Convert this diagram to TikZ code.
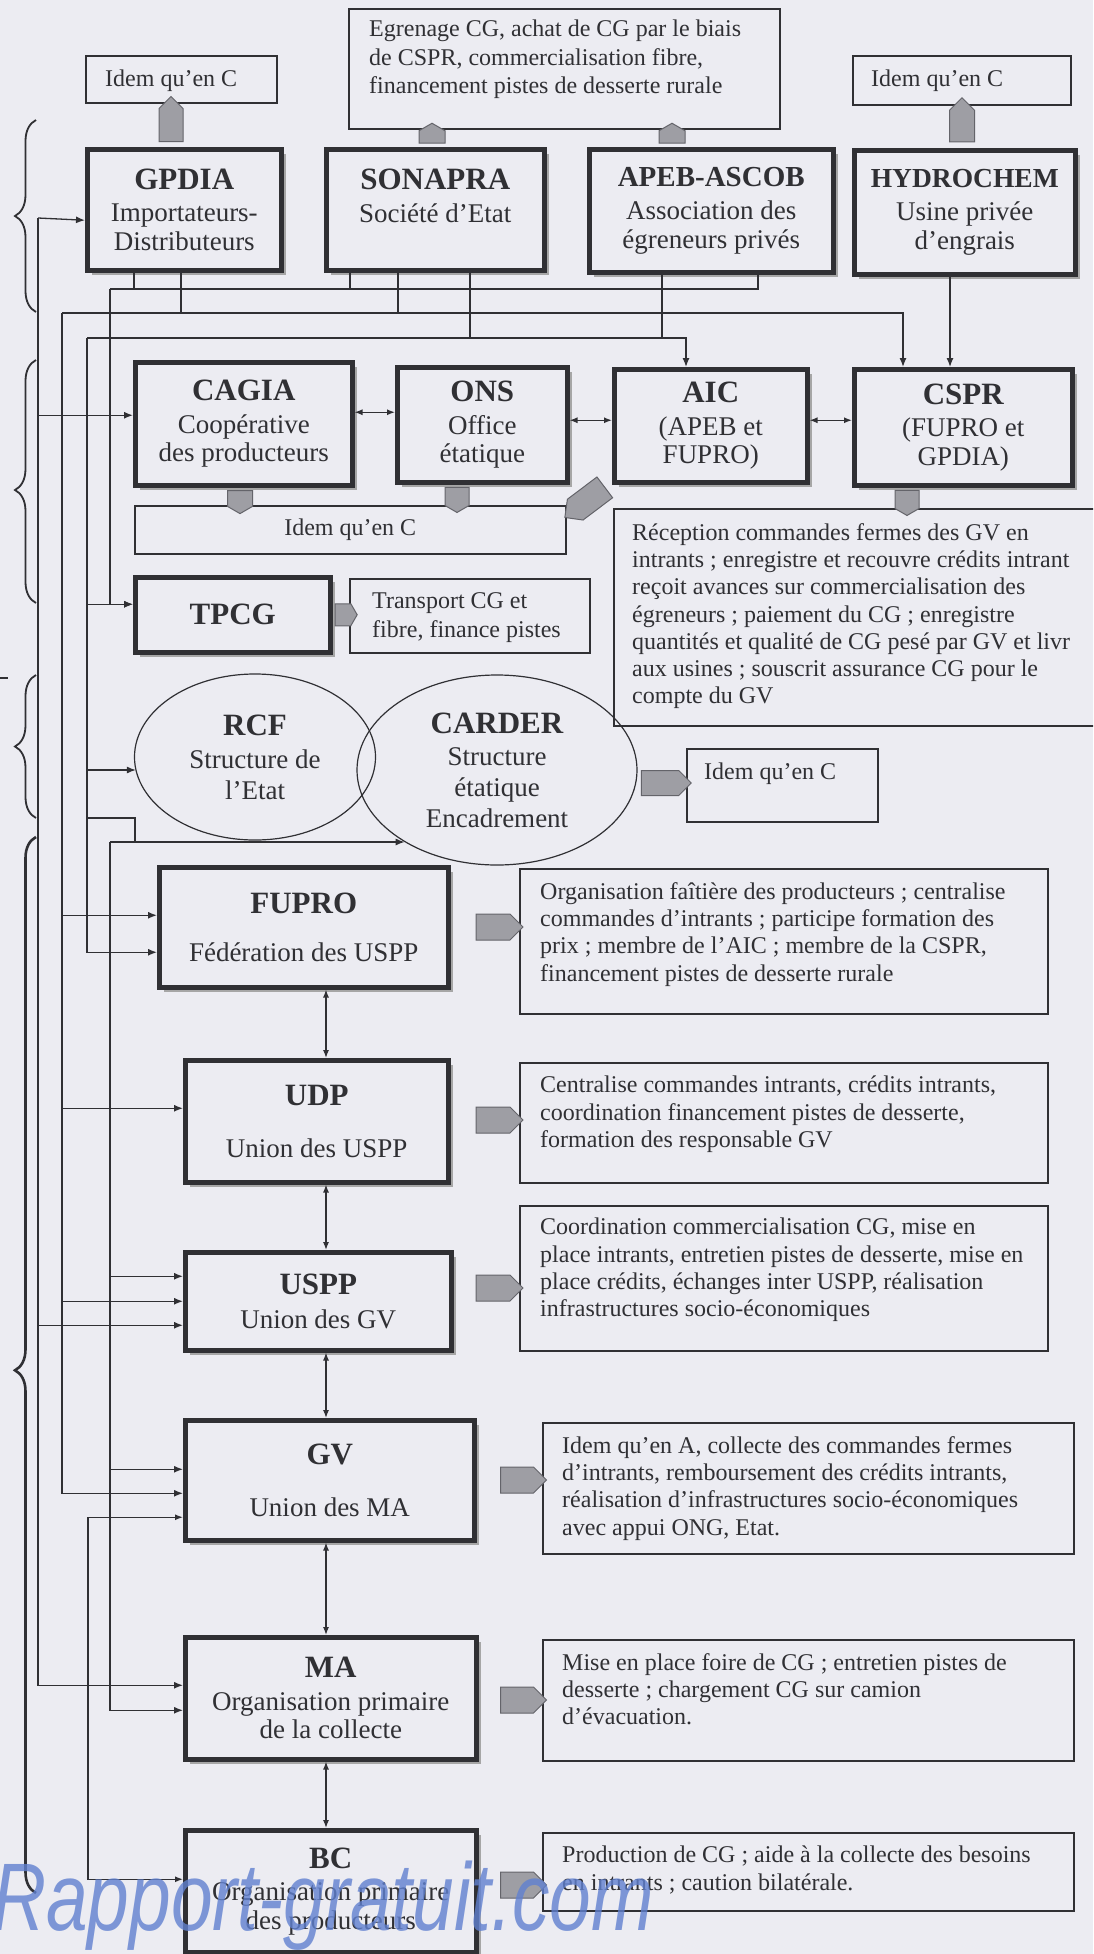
\documentclass[tikz,border=0pt]{standalone}
\usepackage{fontspec}
\setmainfont{Liberation Serif}
\newfontfamily\wmfont{Liberation Sans}
\usetikzlibrary{shapes.geometric,shapes.symbols,arrows.meta,decorations.pathreplacing,calc,shadows}
\definecolor{bgc}{RGB}{236,236,242}
\definecolor{ink}{RGB}{48,48,52}
\definecolor{gfill}{RGB}{158,158,164}
\definecolor{gline}{RGB}{100,100,106}
\definecolor{wmblue}{RGB}{96,128,208}
\newcommand{\ttl}[1]{{\fontsize{31}{32}\selectfont\bfseries #1}}
\tikzset{
  bigbox/.style={draw=ink, line width=4.5pt, fill=bgc, inner sep=0pt, anchor=north west, align=center, text=ink,
     font=\fontsize{27}{28.5}\selectfont,
     drop shadow={shadow xshift=5pt, shadow yshift=-5pt, fill=gray!70, opacity=1}},
  descbox/.style={draw=ink, line width=1.5pt, fill=bgc, inner sep=0pt, anchor=north west},
  desctext/.style={anchor=north west, inner sep=0pt, align=left, text=ink, font=\fontsize{24}{27.3}\selectfont},
  ellbox/.style={draw=ink, line width=1.2pt, ellipse, inner sep=0pt},
  elltext/.style={inner sep=0pt, align=center, text=ink, font=\fontsize{27}{31}\selectfont},
  conn/.style={draw=ink, line width=1.3pt},
  arrowE/.style={-{Latex[length=9pt,width=7pt]}},
  arrowB/.style={{Latex[length=8pt,width=6pt]}-{Latex[length=8pt,width=6pt]}},
  garr/.style={signal, signal to=east, draw=gline, line width=1pt, fill=gfill, inner sep=0pt},
  gshort/.style={signal pointer angle=120},
  bracedeco/.style={decorate, draw=ink, line width=1.8pt, decoration={brace, amplitude=21pt, aspect=#1}},
}
\begin{document}
\begin{tikzpicture}[x=1pt,y=-1pt]
\fill[bgc] (0,0) rectangle (1093,1954);
\clip (0,0) rectangle (1093,1954);

% ---------------- top row ----------------
\node[descbox,minimum width=431pt,minimum height=120pt] (egr) at (348,8) {};
\node[desctext,font=\fontsize{24}{28.5}\selectfont] (egrT) at ($(egr.north west)+(21,12)$) {Egrenage CG, achat de CG par le biais\\de CSPR, commercialisation fibre,\\financement pistes de desserte rurale};
\node[descbox,minimum width=191pt,minimum height=47pt] (idemL) at (85,55) {};
\node[desctext,anchor=west] (idemLT) at ($(idemL.west)+(20,1)$) {Idem qu’en C};
\node[descbox,minimum width=218pt,minimum height=49pt] (idemR) at (852,55) {};
\node[desctext,anchor=west] (idemRT) at ($(idemR.west)+(19,0)$) {Idem qu’en C};

\node[bigbox,minimum width=194pt,minimum height=121pt] (gpdia) at (85,147) {\ttl{GPDIA}\\[4pt]Importateurs-\\Distributeurs};
\node[bigbox,minimum width=218pt,minimum height=121pt] (sonapra) at (324,147) {\ttl{SONAPRA}\\[4pt]Société d’Etat\\\mbox{}};
\node[bigbox,minimum width=244pt,minimum height=123pt] (apeb) at (587,147) {{\fontsize{29}{30}\selectfont\bfseries APEB-ASCOB}\\[5pt]Association des\\égreneurs privés};
\node[bigbox,minimum width=221pt,minimum height=124pt] (hydro) at (852,148) {{\fontsize{27.5}{30}\selectfont\bfseries HYDROCHEM}\\[5pt]Usine privée\\d’engrais};

% ---------------- second row ----------------
\node[bigbox,minimum width=217pt,minimum height=123pt] (cagia) at (133,360) {\ttl{CAGIA}\\[4pt]Coopérative\\des producteurs};
\node[bigbox,minimum width=170pt,minimum height=115pt] (ons) at (395,365) {\ttl{ONS}\\[4pt]Office\\étatique};
\node[bigbox,minimum width=193pt,minimum height=113pt] (aic) at (612,367) {\ttl{AIC}\\[4pt](APEB et\\FUPRO)};
\node[bigbox,minimum width=218pt,minimum height=116pt] (cspr) at (852,367) {\ttl{CSPR}\\[4pt](FUPRO et\\GPDIA)};

\node[descbox,minimum width=431pt,minimum height=48pt] (idemM) at (134,505) {};
\node[desctext,anchor=center] (idemMT) at (idemM.center) {Idem qu’en C};

\node[descbox,minimum width=500pt,minimum height=217pt] (recep) at (613,508) {};
\node[desctext] (recepT) at ($(recep.north west)+(19,15)$) {Réception commandes fermes des GV en\\intrants ; enregistre et recouvre crédits intrant\\reçoit avances sur commercialisation des\\égreneurs ; paiement du CG ; enregistre\\quantités et qualité de CG pesé par GV et livr\\aux usines ; souscrit assurance CG pour le\\compte du GV};

\node[bigbox,minimum width=195pt,minimum height=75pt] (tpcg) at (133,575) {\ttl{TPCG}};
\node[descbox,minimum width=240pt,minimum height=74pt] (transp) at (349,578) {};
\node[desctext,anchor=west,font=\fontsize{24}{28.5}\selectfont] (transpT) at ($(transp.west)+(23,2)$) {Transport CG et\\fibre, finance pistes};

% ---------------- ellipses ----------------
\node[ellbox,minimum width=241pt,minimum height=166pt] (rcf) at (255,757) {};
\node[elltext] (rcfT) at (rcf.center) {\ttl{RCF}\\[2pt]Structure de\\l’Etat};
\node[ellbox,minimum width=280pt,minimum height=190pt] (carder) at (497,770) {};
\node[elltext] (carderT) at (carder.center) {\ttl{CARDER}\\[1pt]Structure\\étatique\\Encadrement};
\node[descbox,minimum width=191pt,minimum height=73pt] (idemR2) at (686,748) {};
\node[desctext] (idemR2T) at ($(idemR2.north west)+(18,15)$) {Idem qu’en C};

% ---------------- vertical stack ----------------
\node[bigbox,minimum width=289pt,minimum height=120pt] (fupro) at (157,865) {\ttl{FUPRO}\\[20pt]Fédération des USPP};
\node[descbox,minimum width=528pt,minimum height=145pt] (fuprod) at (519,868) {};
\node[desctext] (fuprodT) at ($(fuprod.north west)+(21,14)$) {Organisation faîtière des producteurs ; centralise\\commandes d’intrants ; participe formation des\\prix ; membre de l’AIC ; membre de la CSPR,\\financement pistes de desserte rurale};

\node[bigbox,minimum width=263pt,minimum height=122pt] (udp) at (183,1058) {\ttl{UDP}\\[24pt]Union des USPP};
\node[descbox,minimum width=528pt,minimum height=120pt] (udpd) at (519,1062) {};
\node[desctext] (udpdT) at ($(udpd.north west)+(21,14)$) {Centralise commandes intrants, crédits intrants,\\coordination financement pistes de desserte,\\formation des responsable GV};

\node[bigbox,minimum width=266pt,minimum height=98pt] (uspp) at (183,1250) {\ttl{USPP}\\[6pt]Union des GV};
\node[descbox,minimum width=528pt,minimum height=145pt] (usppd) at (519,1205) {};
\node[desctext] (usppdT) at ($(usppd.north west)+(21,13)$) {Coordination commercialisation CG, mise en\\place intrants, entretien pistes de desserte, mise en\\place crédits, échanges inter USPP, réalisation\\infrastructures socio-économiques};

\node[bigbox,minimum width=289pt,minimum height=120pt] (gv) at (183,1418) {\ttl{GV}\\[24pt]Union des MA};
\node[descbox,minimum width=531pt,minimum height=131pt] (gvd) at (542,1422) {};
\node[desctext] (gvdT) at ($(gvd.north west)+(20,14)$) {Idem qu’en A, collecte des commandes fermes\\d’intrants, remboursement des crédits intrants,\\réalisation d’infrastructures socio-économiques\\avec appui ONG, Etat.};

\node[bigbox,minimum width=291pt,minimum height=122pt] (ma) at (183,1635) {\ttl{MA}\\[4pt]Organisation primaire\\de la collecte};
\node[descbox,minimum width=531pt,minimum height=121pt] (mad) at (542,1639) {};
\node[desctext] (madT) at ($(mad.north west)+(20,14)$) {Mise en place foire de CG ; entretien pistes de\\desserte ; chargement CG sur camion\\d’évacuation.};

\node[bigbox,minimum width=291pt,minimum height=122pt] (bc) at (183,1828) {\ttl{BC}\\[4pt]Organisation primaire\\des producteurs};
\node[descbox,minimum width=531pt,minimum height=78pt] (bcd) at (542,1832) {};
\node[desctext] (bcdT) at ($(bcd.north west)+(20,14)$) {Production de CG ; aide à la collecte des besoins\\en intrants ; caution bilatérale.};

% ---------------- grey block arrows ----------------
\node[garr,minimum width=45pt,minimum height=24pt,rotate=90] (g1) at ($(gpdia.north west)+(86,-22)$) {};
\node[garr,gshort,minimum width=20pt,minimum height=26pt,rotate=90] (g2) at ($(sonapra.north west)+(108,-10)$) {};
\node[garr,gshort,minimum width=20pt,minimum height=26pt,rotate=90] (g3) at ($(apeb.north west)+(85,-10)$) {};
\node[garr,minimum width=44pt,minimum height=25pt,rotate=90] (g4) at ($(hydro.north west)+(110,-22)$) {};
\node[garr,gshort,minimum width=23pt,minimum height=25pt,rotate=-90] (g5) at ($(cagia.south west)+(107,11)$) {};
\node[garr,gshort,minimum width=25pt,minimum height=24pt,rotate=-90] (g6) at ($(ons.south west)+(62,12)$) {};
\node[garr,minimum width=50pt,minimum height=26pt,rotate=217] (g7) at ($(aic.south west)+(-22,14)$) {};
\node[garr,gshort,minimum width=25pt,minimum height=24pt,rotate=-90] (g8) at ($(cspr.south west)+(55,12)$) {};
\node[garr,gshort,minimum width=22pt,minimum height=22pt] (g9) at ($(tpcg.east)+(10.5,0)$) {};
\node[garr,minimum width=50pt,minimum height=25pt] (g10) at ($(idemR2.north west)+(-26,35)$) {};
\node[garr,minimum width=47pt,minimum height=26pt] (g11) at ($(fuprod.north west)+(-26,59)$) {};
\node[garr,minimum width=47pt,minimum height=26pt] (g12) at ($(udpd.north west)+(-26,58)$) {};
\node[garr,minimum width=47pt,minimum height=26pt] (g13) at ($(usppd.north west)+(-26,83)$) {};
\node[garr,minimum width=46pt,minimum height=26pt] (g14) at ($(gvd.north west)+(-25,58)$) {};
\node[garr,minimum width=46pt,minimum height=26pt] (g15) at ($(mad.north west)+(-25,61)$) {};
\node[garr,minimum width=46pt,minimum height=26pt] (g16) at ($(bcd.north west)+(-25,53)$) {};

% ---------------- bus coordinates ----------------
\coordinate (bus1) at (110,289);
\coordinate (bus2) at (62,313);
\coordinate (bus3) at (87,338);
\coordinate (busA) at (38,218);
\coordinate (busD) at (110,842);
\coordinate (busF) at (88,1515);
\coordinate (c818) at (87,818);
\coordinate (vx) at (326,0);

% drops to bus 1
\draw[conn] ($(gpdia.south west)+(49,0)$) |- (bus1);
\draw[conn] ($(sonapra.south west)+(26,0)$) |- (bus1);
\draw[conn] ($(apeb.south west)+(171,0)$) |- (bus1);
\coordinate (tpcgIn) at ($(tpcg.west)+(0,-10.5)$);
\draw[conn,arrowE] (bus1) |- (tpcgIn);
% bus 2
\draw[conn] ($(gpdia.south west)+(96,0)$) |- (bus2);
\draw[conn] ($(sonapra.south west)+(74,0)$) |- (bus2);
\draw[conn,arrowE] (bus2) -| ($(cspr.north west)+(51,0)$);
% bus 3
\draw[conn] ($(sonapra.south west)+(146,0)$) |- (bus3);
\draw[conn] ($(apeb.south west)+(75,0)$) |- (bus3);
\draw[conn,arrowE] (bus3) -| ($(aic.north west)+(74,0)$);
% hydrochem
\draw[conn,arrowE] ($(hydro.south west)+(98,0)$) -- ($(cspr.north west)+(98,0)$);

% row 2 links
\coordinate (a1) at ($(cagia.east)+(0,-11.5)$);
\draw[conn,arrowB] (a1) -- (a1 -| ons.west);
\coordinate (a2) at ($(ons.east)+(0,-4.5)$);
\draw[conn,arrowB] (a2) -- (a2 -| aic.west);
\coordinate (a3) at ($(aic.east)+(0,-5.5)$);
\draw[conn,arrowB] (a3) -- (a3 -| cspr.west);

% line A
\coordinate (gpdiaIn) at ($(gpdia.west)+(0,10.5)$);
\coordinate (cagiaIn) at ($(cagia.west)+(0,-8.5)$);
\coordinate (usppInA) at ($(uspp.west)+(0,24)$);
\coordinate (maInA) at ($(ma.west)+(0,-13)$);
\draw[conn,arrowE] (busA) -- (gpdiaIn);
\draw[conn,arrowE] (busA) |- (maInA);
\draw[conn,arrowE] (busA |- cagiaIn) -- (cagiaIn);
\draw[conn,arrowE] (busA |- usppInA) -- (usppInA);

% line B
\coordinate (fuproInB) at ($(fupro.west)+(0,-12)$);
\coordinate (udpIn) at ($(udp.west)+(0,-13)$);
\coordinate (usppInB) at (uspp.west);
\coordinate (gvInB) at ($(gv.west)+(0,13)$);
\draw[conn,arrowE] (bus2) |- (gvInB);
\draw[conn,arrowE] (bus2 |- fuproInB) -- (fuproInB);
\draw[conn,arrowE] (bus2 |- udpIn) -- (udpIn);
\draw[conn,arrowE] (bus2 |- usppInB) -- (usppInB);

% line C
\coordinate (fuproInC) at ($(fupro.west)+(0,25)$);
\coordinate (rcfIn) at ($(rcf.west)+(2,13)$);
\draw[conn,arrowE] (bus3) |- (fuproInC);
\draw[conn,arrowE] (bus3 |- tpcgIn) -- (tpcgIn);
\draw[conn,arrowE] (bus3 |- rcfIn) -- (rcfIn);
\draw[conn] (c818) -| ($(busD)+(25,0)$);

% line D
\coordinate (usppInD) at ($(uspp.west)+(0,-25)$);
\coordinate (gvInD) at ($(gv.west)+(0,-11)$);
\coordinate (maInD) at ($(ma.west)+(0,12)$);
\draw[conn,arrowE] (busD) -- (busD -| carder.218);
\draw[conn,arrowE] (busD) |- (maInD);
\draw[conn,arrowE] (busD |- usppInD) -- (usppInD);
\draw[conn,arrowE] (busD |- gvInD) -- (gvInD);

% line F
\coordinate (gvInF) at ($(gv.west)+(0,37)$);
\coordinate (bcIn) at ($(bc.west)+(0,-12)$);
\draw[conn,arrowB] (gvInF) -| (busF |- bcIn) -- (bcIn);

% stack links
\draw[conn,arrowB] (fupro.south -| vx) -- (udp.north -| vx);
\draw[conn,arrowB] (udp.south -| vx) -- (uspp.north -| vx);
\draw[conn,arrowB] (uspp.south -| vx) -- (gv.north -| vx);
\draw[conn,arrowB] (gv.south -| vx) -- (ma.north -| vx);
\draw[conn,arrowB] (ma.south -| vx) -- (bc.north -| vx);

% ---------------- braces ----------------
\draw[bracedeco=0.5] (36,312) -- (36,120);
\draw[bracedeco=0.465] (36,603) -- (36,360);
\draw[bracedeco=0.5] (36,818) -- (36,675);
\draw[bracedeco=0.495, line width=2.6pt] (36,1893) -- (36,837);
\draw[ink, line width=1.5pt] (0,678) -- (8,678);

% ---------------- watermark ----------------
\node[anchor=base west, inner sep=0pt, text=wmblue, opacity=0.8, xscale=0.78, transform shape,
      font=\wmfont\itshape\fontsize{96}{96}\selectfont] (wm) at (-8,1930) {Rapport-gratuit.com};
\end{tikzpicture}
\end{document}
